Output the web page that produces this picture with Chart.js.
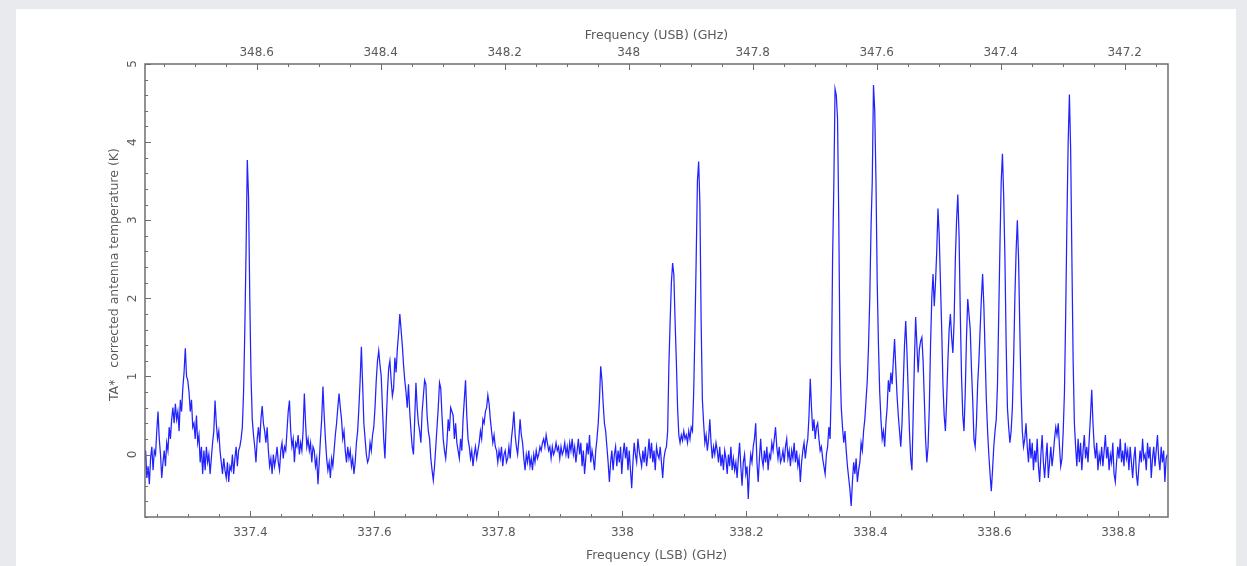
<!DOCTYPE html>
<html>
<head>
<meta charset="utf-8">
<script src="https://cdn.jsdelivr.net/npm/chart.js@4.4.1/dist/chart.umd.min.js"></script>
<style>
  html, body { margin: 0; padding: 0; background: #e8eaed; width: 1247px; height: 566px; overflow: hidden; }
  #sheet { position: absolute; left: 16px; top: 9px; width: 1220px; height: 557px; background: #ffffff; }
  #c { position: absolute; left: 0; top: 0; }
</style>
</head>
<body>
<div id="sheet"></div>
<canvas id="c" width="1247" height="566"></canvas>
<script>
// ---- Data ----
const FREQ_START = 337.229;   // GHz (LSB), first channel
const FREQ_STEP = 0.002;      // GHz per channel
const SIDEBAND_SUM = 686.01;  // USB = SIDEBAND_SUM - LSB

const tempK = [
-0.10, 0.05, -0.30, -0.15, -0.38, -0.05, 0.10, -0.20, 0.05, 0.00,
0.30, 0.55, 0.20, 0.00, -0.30, -0.10, 0.05, -0.15, 0.15, 0.05,
0.35, 0.20, 0.45, 0.60, 0.40, 0.65, 0.45, 0.55, 0.30, 0.70,
0.55, 0.85, 1.05, 1.36, 1.00, 0.95, 0.80, 0.55, 0.70, 0.35,
0.40, 0.20, 0.50, 0.15, 0.25, -0.10, 0.10, -0.25, 0.05, -0.20,
0.10, -0.10, 0.00, -0.25, -0.05, 0.15, 0.30, 0.69, 0.40, 0.20,
0.30, 0.05, -0.10, -0.25, -0.05, -0.20, -0.30, -0.10, -0.35, -0.15,
-0.20, 0.00, -0.25, -0.05, 0.10, -0.15, 0.05, 0.10, 0.20, 0.35,
0.80, 1.60, 2.60, 3.77, 3.30, 2.00, 1.00, 0.45, 0.25, 0.10,
-0.10, 0.20, 0.35, 0.15, 0.45, 0.62, 0.40, 0.30, 0.15, 0.35,
0.05, -0.15, -0.05, -0.25, 0.00, -0.15, -0.05, 0.10, -0.10, -0.20,
0.05, 0.15, -0.05, 0.10, 0.05, 0.30, 0.55, 0.69, 0.30, 0.10,
0.20, -0.10, 0.15, 0.10, 0.25, 0.00, 0.15, 0.05, 0.30, 0.78,
0.40, 0.10, 0.20, 0.05, 0.15, -0.10, 0.10, 0.05, -0.15, -0.05,
-0.38, -0.10, 0.20, 0.45, 0.87, 0.50, 0.20, -0.05, -0.20, -0.10,
-0.30, -0.05, -0.15, 0.05, 0.25, 0.40, 0.60, 0.78, 0.60, 0.45,
0.20, 0.30, 0.05, -0.10, 0.10, -0.05, 0.05, -0.15, -0.05, -0.25,
-0.10, 0.15, 0.30, 0.60, 0.95, 1.38, 0.90, 0.40, 0.20, 0.00,
-0.10, -0.05, 0.15, 0.05, 0.25, 0.35, 0.60, 0.95, 1.20, 1.33,
1.15, 1.00, 0.60, 0.20, -0.05, 0.40, 0.80, 1.10, 1.20, 0.95,
0.75, 0.85, 1.24, 1.05, 1.35, 1.55, 1.80, 1.60, 1.40, 1.15,
0.95, 0.80, 0.60, 0.90, 0.55, 0.30, 0.10, 0.00, 0.45, 0.92,
0.60, 0.40, 0.30, 0.15, 0.55, 0.75, 0.95, 0.90, 0.50, 0.30,
0.20, -0.05, -0.20, -0.33, -0.15, 0.10, 0.35, 0.60, 0.92, 0.85,
0.50, 0.20, 0.05, -0.05, 0.15, 0.45, 0.30, 0.60, 0.55, 0.50,
0.20, 0.40, 0.15, 0.05, -0.05, 0.20, 0.05, 0.45, 0.70, 0.95,
0.50, 0.20, 0.10, -0.05, 0.05, -0.15, 0.00, 0.10, -0.05, 0.05,
0.15, 0.30, 0.20, 0.45, 0.40, 0.55, 0.60, 0.76, 0.65, 0.45,
0.30, 0.15, 0.25, 0.10, 0.05, -0.10, 0.05, -0.05, 0.10, -0.15,
0.00, 0.05, -0.10, -0.05, 0.10, -0.05, 0.20, 0.35, 0.55, 0.25,
0.10, 0.00, 0.20, 0.45, 0.25, 0.15, -0.05, -0.20, 0.00, -0.10,
0.05, -0.15, -0.05, -0.20, 0.00, -0.10, 0.05, -0.05, 0.00, 0.10,
0.05, 0.15, 0.20, 0.10, 0.25, 0.15, 0.05, 0.10, -0.05, 0.10,
0.00, 0.05, 0.15, 0.05, 0.10, -0.05, 0.10, 0.00, 0.05, 0.15,
0.00, 0.10, -0.05, 0.15, 0.05, 0.20, 0.00, 0.10, -0.10, 0.05,
0.20, 0.00, 0.15, -0.15, 0.05, -0.25, -0.05, 0.15, 0.00, 0.25,
-0.10, 0.05, -0.05, -0.20, 0.05, 0.20, 0.40, 0.70, 1.13, 0.95,
0.65, 0.40, 0.30, 0.10, -0.10, -0.35, -0.10, 0.05, -0.20, 0.00,
0.10, -0.15, 0.05, -0.10, 0.10, -0.25, 0.00, 0.15, -0.05, 0.10,
-0.20, 0.05, -0.20, -0.43, -0.10, 0.15, 0.00, -0.10, 0.20, 0.05,
-0.05, -0.15, 0.05, -0.10, 0.10, -0.15, 0.00, 0.20, -0.05, 0.15,
-0.10, 0.05, -0.20, 0.10, 0.00, -0.05, 0.10, -0.10, -0.30, -0.05,
0.05, 0.10, 0.30, 1.15, 1.70, 2.20, 2.45, 2.30, 1.70, 1.20,
0.60, 0.25, 0.15, 0.25, 0.18, 0.30, 0.20, 0.25, 0.15, 0.30,
0.20, 0.35, 0.30, 0.80, 1.60, 2.50, 3.50, 3.75, 3.20, 1.70,
0.70, 0.40, 0.15, 0.25, 0.05, 0.20, 0.45, 0.15, -0.05, 0.10,
0.00, 0.15, 0.05, -0.10, 0.10, -0.15, 0.00, -0.20, 0.05, -0.05,
-0.25, 0.00, -0.15, 0.10, -0.20, -0.05, -0.20, -0.10, -0.30, -0.05,
0.15, -0.15, -0.40, -0.10, 0.00, -0.25, -0.15, -0.57, -0.20, 0.00,
-0.10, 0.10, 0.20, 0.40, -0.10, -0.35, -0.05, 0.20, -0.05, -0.15,
0.05, -0.10, 0.10, -0.20, 0.00, -0.05, 0.15, 0.05, 0.20, 0.35,
0.10, -0.05, 0.10, -0.10, -0.05, 0.05, -0.10, 0.10, 0.20, -0.05,
0.05, -0.15, 0.05, -0.05, 0.15, -0.10, 0.05, -0.15, -0.05, -0.35,
-0.10, 0.05, 0.15, -0.05, 0.10, 0.20, 0.50, 0.97, 0.60, 0.30,
0.45, 0.20, 0.35, 0.40, 0.20, 0.05, 0.10, -0.05, -0.15, -0.25,
0.00, 0.10, 0.35, 0.20, 0.90, 2.50, 3.43, 4.68, 4.60, 4.30,
3.00, 1.20, 0.60, 0.35, 0.15, 0.30, 0.05, -0.15, -0.30, -0.45,
-0.66, -0.35, -0.10, -0.25, -0.05, -0.35, -0.20, -0.10, 0.15, 0.05,
0.30, 0.45, 0.70, 0.95, 1.40, 2.00, 2.90, 3.50, 4.73, 4.40,
3.50, 2.20, 1.40, 0.80, 0.45, 0.20, 0.30, 0.10, 0.40, 0.60,
0.95, 0.80, 1.05, 0.90, 1.20, 1.48, 1.10, 0.75, 0.50, 0.30,
0.10, 0.40, 0.90, 1.40, 1.71, 1.30, 0.80, 0.30, -0.05, -0.20,
0.50, 1.20, 1.76, 1.40, 1.05, 1.35, 1.45, 1.50, 1.20, 0.70,
0.20, -0.10, 0.10, 0.60, 1.40, 2.00, 2.31, 1.90, 2.20, 2.60,
3.15, 2.80, 2.20, 1.60, 0.90, 0.50, 0.30, 0.70, 1.20, 1.60,
1.80, 1.50, 1.30, 1.70, 2.50, 3.00, 3.33, 2.80, 1.80, 1.00,
0.50, 0.30, 0.80, 1.50, 1.99, 1.80, 1.60, 1.10, 0.70, 0.20,
0.10, 0.40, 0.90, 1.20, 1.60, 2.00, 2.31, 1.90, 1.30, 0.70,
0.30, 0.00, -0.25, -0.47, -0.20, 0.10, 0.30, 0.45, 0.90, 1.80,
2.70, 3.50, 3.85, 3.30, 2.50, 1.40, 0.60, 0.35, 0.15, 0.30,
0.60, 1.20, 2.00, 2.60, 3.00, 2.50, 1.60, 0.80, 0.30, 0.10,
0.20, 0.40, 0.10, -0.10, 0.20, -0.05, 0.15, -0.20, 0.05, -0.10,
0.20, -0.15, -0.35, 0.00, 0.25, -0.10, -0.30, -0.05, 0.15, -0.30,
-0.10, 0.10, -0.15, 0.00, 0.20, 0.35, 0.25, 0.40, 0.10, -0.15,
-0.05, 0.30, 0.80, 1.80, 3.00, 4.00, 4.61, 3.90, 2.50, 1.20,
0.40, 0.10, -0.15, 0.20, -0.10, 0.15, -0.20, 0.05, 0.25, -0.05,
0.10, -0.10, 0.20, 0.50, 0.83, 0.40, 0.10, -0.05, 0.15, -0.20,
0.00, -0.10, 0.10, -0.15, 0.05, 0.25, -0.05, 0.10, -0.20, 0.00,
-0.10, 0.15, -0.25, -0.35, -0.10, 0.10, -0.05, 0.20, -0.10, 0.05,
-0.15, 0.15, -0.05, 0.05, -0.20, 0.10, -0.10, -0.30, -0.05, 0.10,
-0.25, -0.40, -0.15, 0.05, -0.10, 0.20, -0.05, 0.00, -0.20, 0.15,
-0.05, 0.10, -0.30, -0.05, 0.10, -0.15, 0.05, 0.25, -0.05, -0.20,
0.10, -0.10, 0.05, -0.35, -0.05, 0.00
];

const lsbTicks = [337.4, 337.6, 337.8, 338, 338.2, 338.4, 338.6, 338.8];
const usbTicks = [348.6, 348.4, 348.2, 348, 347.8, 347.6, 347.4, 347.2];
const tempTicks = [0, 1, 2, 3, 4, 5];

const LSB_MIN = 337.23, LSB_MAX = 338.88;
const T_MIN = -0.8, T_MAX = 5;

// ---- Build chart ----
const points = tempK.map((t, i) => ({ x: FREQ_START + i * FREQ_STEP, y: t }));
const FRAME = '#6e6e6e';
const TXT = '#5a5a5a';
const tickFont = { family: 'DejaVu Sans', size: 12 };
const titleFont = { family: 'DejaVu Sans', size: 12.5 };
const fmt = v => String(+Number(v).toFixed(2));

const frameAndTicks = {
  id: 'frameAndTicks',
  afterDatasetsDraw(chart) {
    const { ctx, chartArea: a, scales } = chart;
    ctx.save();
    ctx.strokeStyle = FRAME;
    ctx.lineWidth = 1.5;
    ctx.strokeRect(a.left, a.top, a.right - a.left, a.bottom - a.top);
    ctx.lineWidth = 1;
    ctx.beginPath();
    const xs = scales.x;
    for (let k = Math.ceil(xs.min / 0.05 - 1e-9); k * 0.05 <= xs.max + 1e-9; k++) {
      const px = Math.round(xs.getPixelForValue(k * 0.05)) + 0.5;
      const len = (k % 4 === 0) ? 6 : 3;
      ctx.moveTo(px, a.bottom); ctx.lineTo(px, a.bottom - len);
    }
    const xt = scales.x2;
    for (let k = Math.ceil(xt.min / 0.05 - 1e-9); k * 0.05 <= xt.max + 1e-9; k++) {
      const px = Math.round(xt.getPixelForValue(k * 0.05)) + 0.5;
      const len = (k % 4 === 0) ? 6 : 3;
      ctx.moveTo(px, a.top); ctx.lineTo(px, a.top + len);
    }
    const ys = scales.y;
    for (let k = Math.ceil(ys.min / 0.2 - 1e-9); k * 0.2 <= ys.max + 1e-9; k++) {
      const py = Math.round(ys.getPixelForValue(k * 0.2)) + 0.5;
      const len = (k % 5 === 0) ? 6 : 3;
      ctx.moveTo(a.left, py); ctx.lineTo(a.left + len, py);
    }
    ctx.stroke();
    ctx.restore();
  }
};

new Chart(document.getElementById('c'), {
  type: 'line',
  data: {
    datasets: [{
      data: points,
      borderColor: 'rgba(10,10,255,0.9)',
      borderWidth: 1.25,
      pointRadius: 0,
      tension: 0,
      fill: false
    }]
  },
  options: {
    responsive: false,
    animation: false,
    devicePixelRatio: 1,
    layout: { padding: { left: 0, right: 79, top: 0, bottom: 0 } },
    plugins: { legend: { display: false }, tooltip: { enabled: false } },
    scales: {
      x: {
        type: 'linear', position: 'bottom', min: LSB_MIN, max: LSB_MAX,
        grid: { display: false, drawTicks: false }, border: { display: false },
        ticks: { font: tickFont, color: TXT, padding: 9, maxRotation: 0, autoSkip: false, callback: fmt },
        afterBuildTicks: s => { s.ticks = lsbTicks.map(v => ({ value: v })); },
        afterFit: s => { s.height = 49; },
        title: { display: true, text: 'Frequency (LSB) (GHz)', font: titleFont, color: TXT, padding: { top: 0, bottom: 3 } }
      },
      x2: {
        type: 'linear', position: 'top', display: true,
        min: SIDEBAND_SUM - LSB_MAX, max: SIDEBAND_SUM - LSB_MIN, reverse: true,
        grid: { display: false, drawTicks: false }, border: { display: false },
        ticks: { font: tickFont, color: TXT, padding: 4, maxRotation: 0, autoSkip: false, callback: fmt },
        afterBuildTicks: s => { s.ticks = usbTicks.map(v => ({ value: v })); },
        afterFit: s => { s.height = 64; },
        title: { display: true, text: 'Frequency (USB) (GHz)', font: titleFont, color: TXT, padding: { top: 28, bottom: 0 } }
      },
      y: {
        type: 'linear', position: 'left', min: T_MIN, max: T_MAX,
        grid: { display: false, drawTicks: false }, border: { display: false },
        ticks: { font: tickFont, color: TXT, padding: 8, minRotation: 90, maxRotation: 90, crossAlign: 'center', autoSkip: false, callback: fmt },
        afterBuildTicks: s => { s.ticks = tempTicks.map(v => ({ value: v })); },
        afterFit: s => { s.width = 145; },
        title: { display: true, text: '        TA*   corrected antenna temperature (K)', font: titleFont, color: TXT, padding: { top: 107, bottom: 0 } }
      }
    }
  },
  plugins: [frameAndTicks]
});
</script>
</body>
</html>
